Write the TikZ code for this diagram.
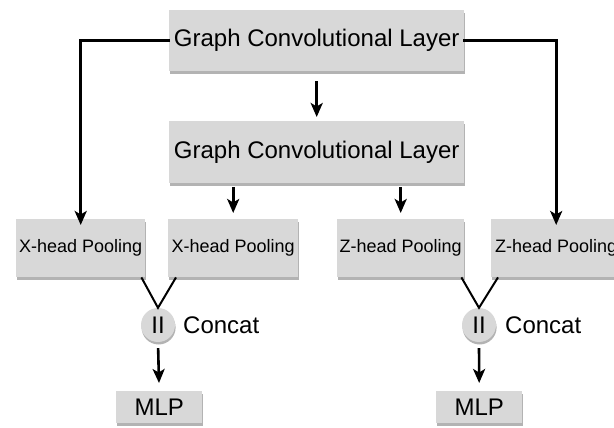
\documentclass[tikz,border=0pt]{standalone}
\usepackage{fontspec}
\setmainfont{Liberation Sans}
\usetikzlibrary{shadows,arrows.meta}
\definecolor{boxgray}{HTML}{D8D8D8}
\tikzset{
  box/.style={draw=none, fill=boxgray, inner sep=0pt, anchor=north west,
    drop shadow={shadow xshift=0.8pt, shadow yshift=-3pt, fill=black!50, opacity=0.6}},
  conn/.style={line width=2.6pt, black},
  arr/.style={conn, -{Stealth[length=14pt,width=12pt,inset=3.5pt]}},
  big/.style={font=\fontsize{24}{28}\selectfont},
  small/.style={font=\fontsize{18}{22}\selectfont},
}
\begin{document}
\begin{tikzpicture}[x=1pt,y=-1pt]
\useasboundingbox (0,0) rectangle (614,428);
% boxes
\node[box, big, minimum width=295pt, minimum height=61pt] (gcl1) at (169,10) {Graph Convolutional Layer};
\node[box, big, minimum width=295pt, minimum height=62pt] (gcl2) at (169,121) {Graph Convolutional Layer};
\node[box, small, minimum width=129pt, minimum height=58pt] (xp1) at (16,219) {X-head Pooling};
\node[box, small, minimum width=130pt, minimum height=58pt] (xp2) at (168,219) {X-head Pooling};
\node[box, small, minimum width=127pt, minimum height=58pt] (zp1) at (337,219) {Z-head Pooling};
\node[box, small, minimum width=130pt, minimum height=58pt] (zp2) at (491,219) {Z-head Pooling};
% concat circles
\node[circle, fill=boxgray, minimum size=34pt, inner sep=0pt, big,
  drop shadow={shadow xshift=0.6pt, shadow yshift=-2.5pt, fill=black!50, opacity=0.6}] (c1) at (158,325) {II};
\node[circle, fill=boxgray, minimum size=34pt, inner sep=0pt, big,
  drop shadow={shadow xshift=0.6pt, shadow yshift=-2.5pt, fill=black!50, opacity=0.6}] (c2) at (479,325) {II};
\node[big, anchor=west, inner sep=0pt] (cl1) at (183,325) {Concat};
\node[big, anchor=west, inner sep=0pt] (cl2) at (505,325) {Concat};
% MLP
\node[box, big, minimum width=86pt, minimum height=32pt] (mlp1) at (116,391) {MLP};
\node[box, big, minimum width=86pt, minimum height=32pt] (mlp2) at (436,391) {MLP};
% connectors
\draw[arr] ([xshift=1pt]gcl1.west) -| ([yshift=-6pt]xp1.north);
\draw[arr] ([xshift=-1pt]gcl1.east) -| ([yshift=-6pt]zp2.north);
\draw[arr, shorten <=10pt, shorten >=4pt] (gcl1.south) -- (gcl2.north);
\draw[arr, shorten <=4pt, shorten >=6pt] (gcl2.south -| xp2.north) -- (xp2.north);
\draw[arr, shorten <=4pt, shorten >=6pt] (gcl2.south -| zp1.north) -- (zp1.north);
\draw[conn, line width=2pt] ([xshift=-4pt]xp1.south east) -- (c1.north) -- ([xshift=8pt]xp2.south west);
\draw[conn, line width=2pt] ([xshift=-3pt]zp1.south east) -- (c2.north) -- ([xshift=7pt]zp2.south west);
\draw[arr, shorten <=6pt, shorten >=8pt] (c1.south) -- (mlp1.north);
\draw[arr, shorten <=6pt, shorten >=8pt] (c2.south) -- (mlp2.north);
\end{tikzpicture}
\end{document}
